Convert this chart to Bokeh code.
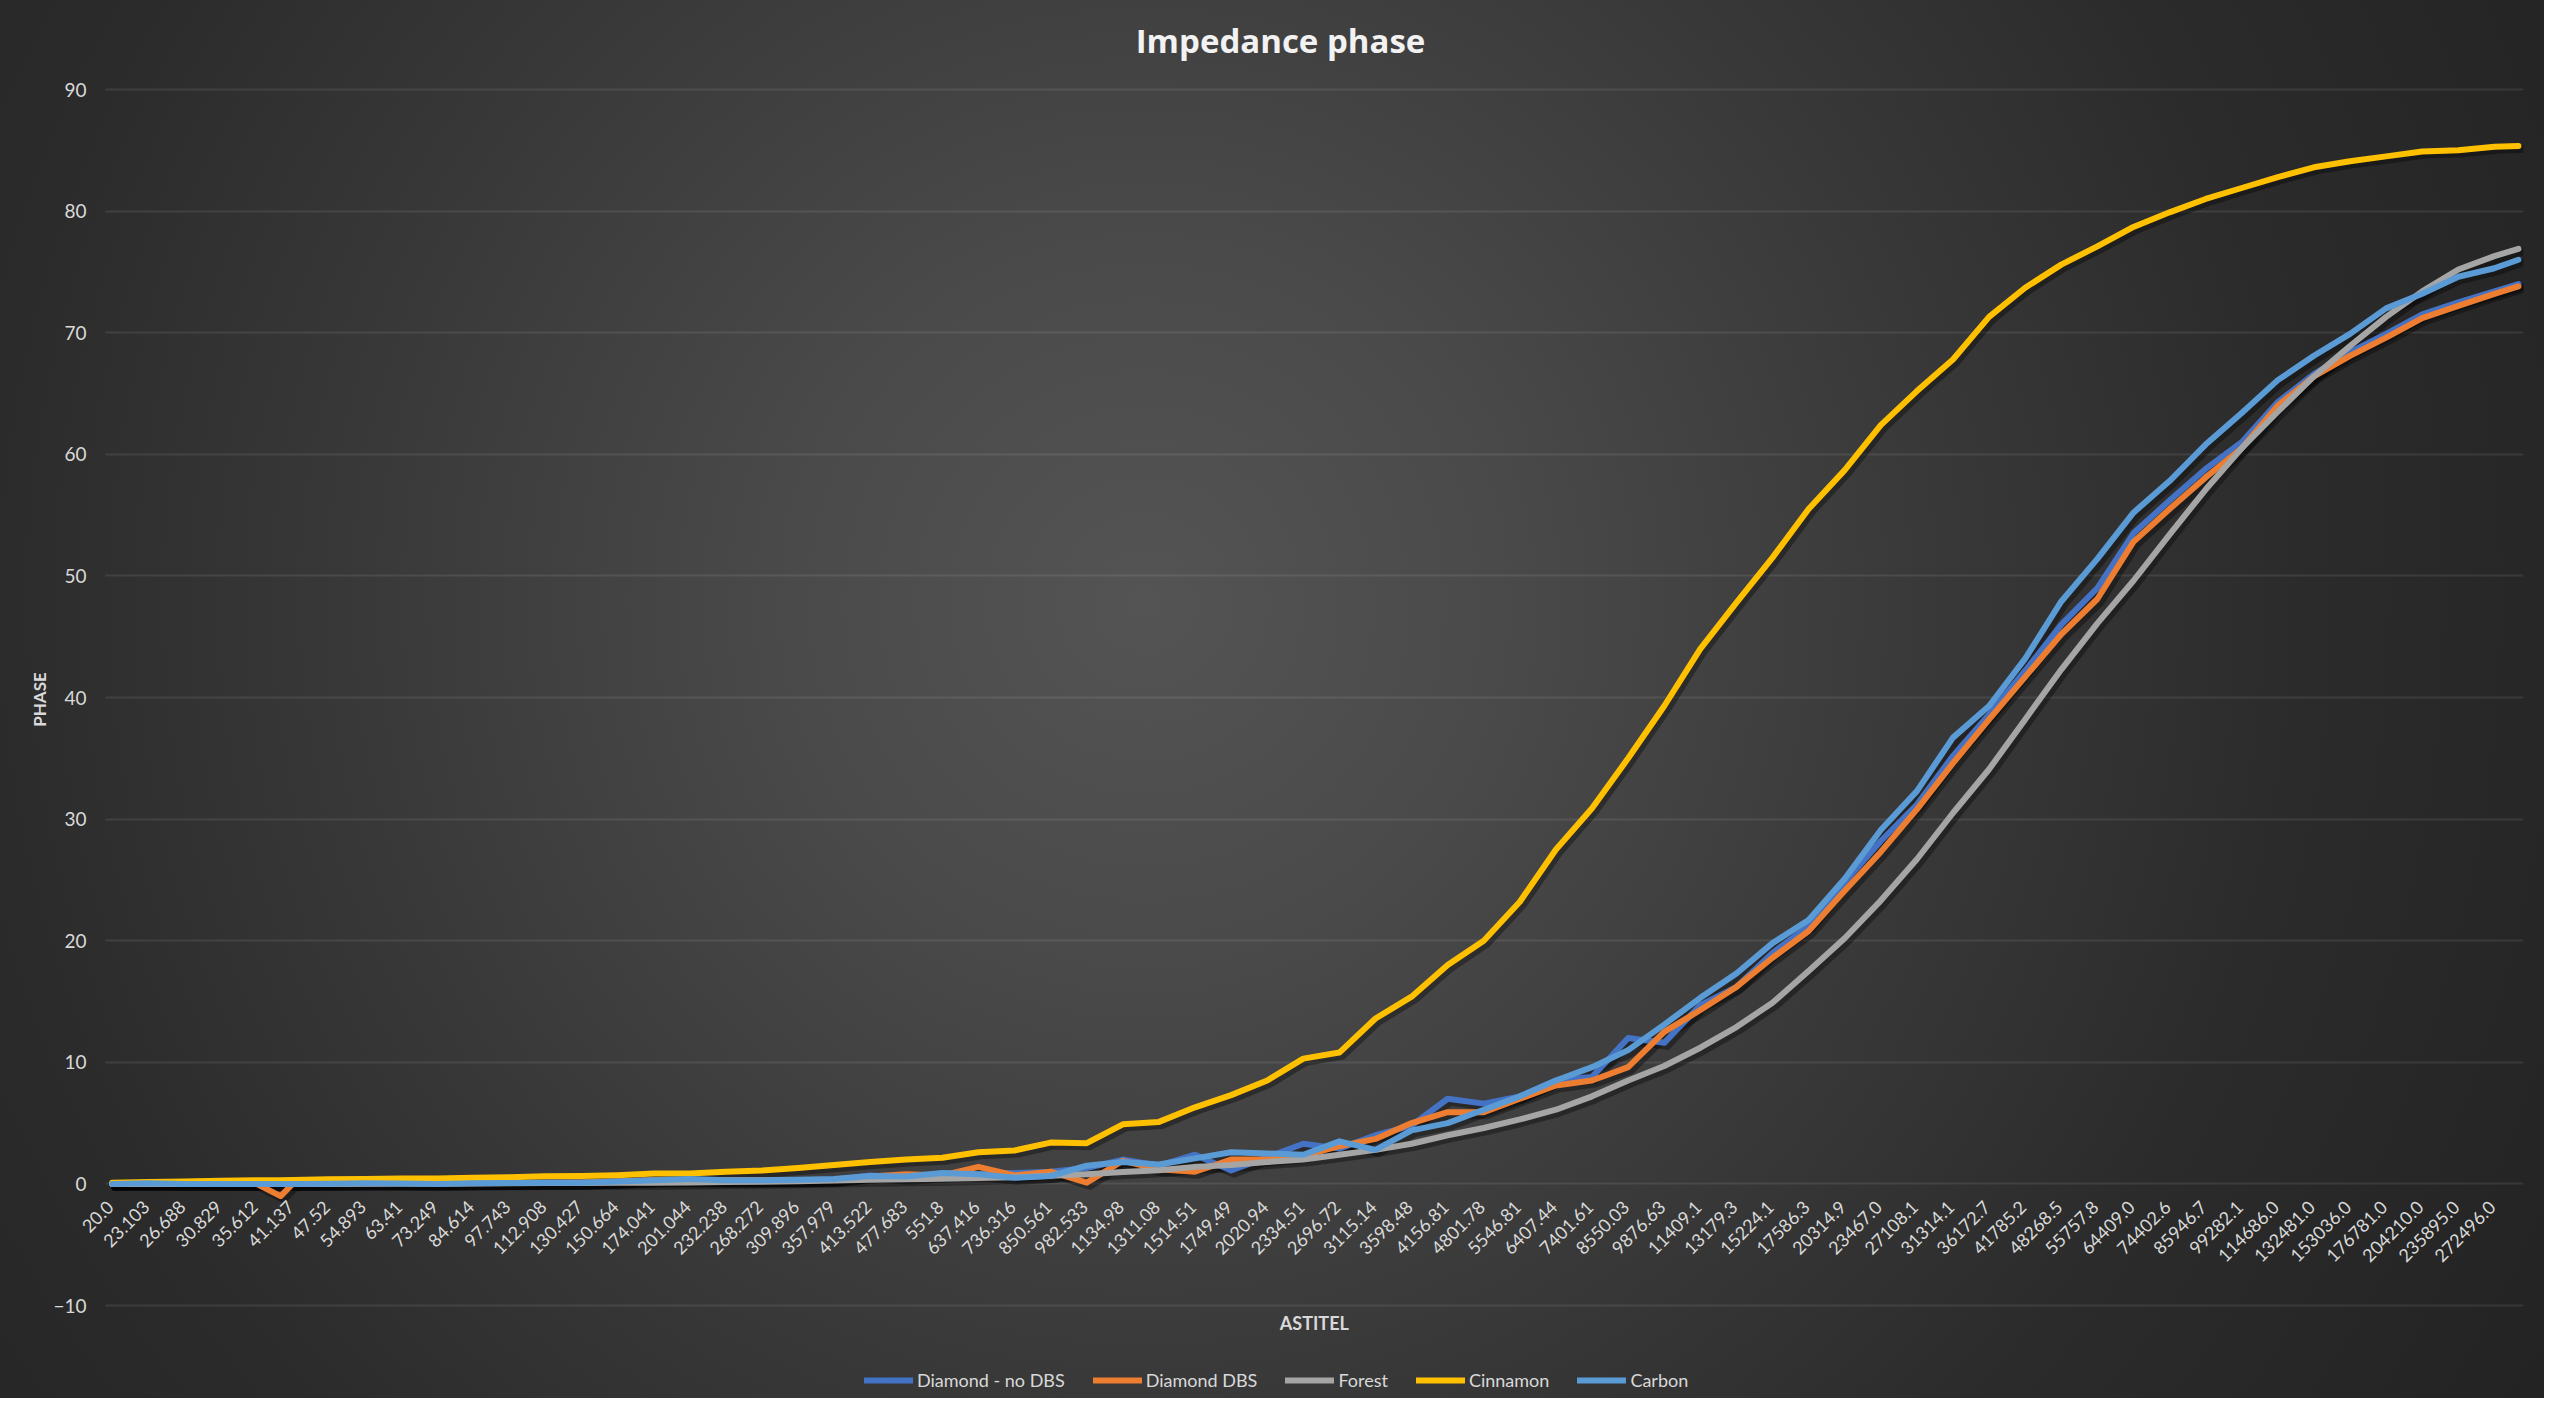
import math
from bokeh.plotting import figure
from bokeh.models import (Range1d, FixedTicker, Legend, LegendItem, ColumnDataSource,
                          LabelSet, Label)
from bokeh.transform import dodge
from bokeh.core.properties import value
from bokeh.embed import file_html
from bokeh.resources import INLINE

# ---------------- data ----------------
FREQ_LABELS = [
    "20.0", "23.103", "26.688", "30.829", "35.612", "41.137", "47.52", "54.893", "63.41", "73.249",
    "84.614", "97.743", "112.908", "130.427", "150.664", "174.041", "201.044", "232.238", "268.272", "309.896",
    "357.979", "413.522", "477.683", "551.8", "637.416", "736.316", "850.561", "982.533", "1134.98", "1311.08",
    "1514.51", "1749.49", "2020.94", "2334.51", "2696.72", "3115.14", "3598.48", "4156.81", "4801.78", "5546.81",
    "6407.44", "7401.61", "8550.03", "9876.63", "11409.1", "13179.3", "15224.1", "17586.3", "20314.9", "23467.0",
    "27108.1", "31314.1", "36172.7", "41785.2", "48268.5", "55757.8", "64409.0", "74402.6", "85946.7", "99282.1",
    "114686.0", "132481.0", "153036.0", "176781.0", "204210.0", "235895.0", "272496.0",
]
# category positions (frequency point number, 201 points, labelled every 3rd)
LABEL_INDEX = list(range(0, 3 * len(FREQ_LABELS), 3))
POINT_INDEX = sorted(set(LABEL_INDEX) | {14, 200})

DIAMOND_NO_DBS = [
    0.0, 0.0, 0.02, 0.0, 0.0,
    0.0,
    0.02, 0.03, 0.05, 0.05, 0.05, 0.06, 0.08, 0.1, 0.12, 0.2,
    0.3, 0.3, 0.3, 0.3, 0.3, 0.35, 0.7, 0.5, 0.7, 0.8,
    0.9, 1.0, 1.3, 2.0, 1.5, 2.4, 1.1, 2.2, 3.3, 2.9,
    4.0, 4.8, 7.0, 6.6, 7.2, 8.5, 8.8, 12.0, 11.6, 14.7,
    16.2, 19.0, 21.2, 24.8, 28.2, 31.2, 35.2, 38.6, 42.2, 46.0,
    49.0, 53.5, 56.2, 58.8, 61.0, 64.3, 66.6, 68.4, 69.9, 71.5,
    72.5, 73.4,
    74.0,
]
DIAMOND_DBS = [
    0.0, 0.05, 0.03, 0.0, 0.0,
    -1.0,
    0.0, 0.05, 0.05, 0.05, 0.05, 0.05, 0.08, 0.1, 0.12, 0.2,
    0.3, 0.3, 0.3, 0.3, 0.3, 0.35, 0.6, 0.8, 0.7, 1.4,
    0.7, 1.0, 0.1, 1.9, 1.2, 1.0, 2.0, 2.0, 2.3, 3.1,
    3.7, 5.0, 5.9, 5.9, 7.0, 8.1, 8.5, 9.6, 12.5, 14.3,
    16.2, 18.6, 20.8, 24.1, 27.3, 30.8, 34.6, 38.2, 41.7, 45.2,
    48.1, 52.8, 55.5, 58.1, 60.5, 64.0, 66.4, 68.1, 69.6, 71.2,
    72.2, 73.2,
    73.8,
]
FOREST = [
    0.0, 0.0, 0.0, 0.0, 0.0,
    0.0,
    0.0, 0.0, 0.02, 0.03, 0.04, 0.05, 0.06, 0.07, 0.08, 0.1,
    0.1, 0.12, 0.15, 0.18, 0.22, 0.28, 0.35, 0.38, 0.42, 0.48,
    0.55, 0.68, 0.8, 0.98, 1.12, 1.4, 1.55, 1.8, 2.0, 2.4,
    2.8, 3.3, 4.0, 4.6, 5.3, 6.1, 7.2, 8.5, 9.7, 11.2,
    12.9, 14.9, 17.5, 20.2, 23.3, 26.7, 30.5, 34.1, 38.2, 42.3,
    46.1, 49.6, 53.4, 57.1, 60.5, 63.5, 66.4, 68.9, 71.3, 73.4,
    75.2, 76.3,
    76.9,
]
CINNAMON = [
    0.1, 0.15, 0.2, 0.25, 0.3,
    0.3,
    0.32, 0.38, 0.4, 0.45, 0.45, 0.5, 0.55, 0.62, 0.65, 0.72,
    0.85, 0.85, 1.0, 1.1, 1.3, 1.55, 1.8, 2.0, 2.15, 2.6,
    2.75, 3.4, 3.35, 4.9, 5.1, 6.3, 7.3, 8.5, 10.3, 10.8,
    13.6, 15.4, 18.0, 20.0, 23.2, 27.5, 30.9, 35.0, 39.3, 44.0,
    47.8, 51.5, 55.5, 58.7, 62.4, 65.2, 67.8, 71.3, 73.7, 75.6,
    77.1, 78.7, 79.9, 81.0, 81.9, 82.8, 83.6, 84.1, 84.5, 84.9,
    85.0, 85.3,
    85.35,
]
CARBON = [
    0.0, 0.05, 0.0, 0.0, 0.0,
    0.0,
    0.0, 0.02, 0.05, 0.03, 0.0, 0.05, 0.08, 0.1, 0.1, 0.2,
    0.3, 0.4, 0.3, 0.3, 0.35, 0.4, 0.65, 0.6, 0.9, 0.8,
    0.5, 0.65, 1.5, 1.8, 1.6, 2.1, 2.6, 2.5, 2.4, 3.5,
    2.8, 4.4, 5.0, 6.1, 7.2, 8.5, 9.6, 11.0, 13.1, 15.3,
    17.3, 19.8, 21.7, 25.1, 29.1, 32.3, 36.7, 39.3, 43.2, 47.9,
    51.4, 55.2, 57.8, 60.8, 63.4, 66.1, 68.1, 69.9, 72.0, 73.2,
    74.6, 75.3,
    76.0,
]
SERIES_NAMES = ["Diamond - no DBS", "Diamond DBS", "Forest", "Cinnamon", "Carbon"]
SERIES_VALUES = [DIAMOND_NO_DBS, DIAMOND_DBS, FOREST, CINNAMON, CARBON]
SERIES_COLORS = ["#4472C4", "#ED7D31", "#A5A5A5", "#FFC000", "#5B9BD5"]
Y_TICKS = [-10, 0, 10, 20, 30, 40, 50, 60, 70, 80, 90]

TEXT_COLOR = "#d9d9d9"

# ---------------- geometry (pixels) ----------------
W, H = 2544, 1398
LEFT, RIGHT = 72, 21
PX_PER_UNIT = 12.16                 # vertical scale
GRID_START, X_END = -0.58, 200.42   # gridlines span the categories
X_START = -3.3                      # a bit of room so the first rotated label is not cut
Y_TOP_PX, Y_BOTTOM_PX = 89, 1305    # pixel rows of the 90 and -10 gridlines
Y_HIGH = 90 + Y_TOP_PX / PX_PER_UNIT
Y_LOW = -10 - (H - Y_BOTTOM_PX) / PX_PER_UNIT
X_PER_PX = (X_END - X_START) / (W - LEFT - RIGHT)

p = figure(
    width=W, height=H, title=None, x_axis_location=None,
    x_range=Range1d(X_START, X_END), y_range=Range1d(Y_LOW, Y_HIGH),
    output_backend="svg", toolbar_location=None,
    min_border_left=LEFT, min_border_right=RIGHT, min_border_top=0, min_border_bottom=0,
)
p.background_fill_color = None
p.border_fill_color = None
p.outline_line_color = None
p.styles = {"background": "radial-gradient(circle at 45% 43%, #545454 0%, #4a4a4a 22%, #383838 50%, #2b2b2b 72%, #232323 100%)"}

# y axis
yax = p.yaxis[0]
yax.ticker = FixedTicker(ticks=Y_TICKS)
yax.axis_line_color = None
yax.major_tick_line_color = None
yax.minor_tick_line_color = None
yax.major_tick_out = 0
yax.major_tick_in = 0
try:
    yax.major_label_standoff = -14
except Exception:
    yax.major_label_standoff = 0
yax.major_label_text_font = "Lato"
yax.major_label_text_font_size = "19px"
yax.major_label_text_color = TEXT_COLOR
yax.axis_label = "PHASE"
yax.axis_label_text_font = "Lato"
yax.axis_label_text_font_size = "17px"
yax.axis_label_text_font_style = "bold"
yax.axis_label_text_color = TEXT_COLOR
yax.axis_label_standoff = 0

p.xgrid.grid_line_color = None
ygrid = p.ygrid[0]
ygrid.grid_line_color = "#ffffff"
ygrid.grid_line_alpha = 0.09
ygrid.grid_line_width = 2
if "cross_bounds" in ygrid.properties():
    ygrid.cross_bounds = (GRID_START, X_END)

# chart title and horizontal axis title
p.add_layout(Label(x=X_START + (1280 - LEFT) * X_PER_PX, y=90 + (Y_TOP_PX - 40) / PX_PER_UNIT,
                   text="Impedance phase", text_align="center", text_baseline="middle",
                   text_font="Open Sans", text_font_size="33px", text_font_style="bold",
                   text_color="#f2f2f2"))
p.add_layout(Label(x=(GRID_START + X_END) / 2, y=-10 - (1322 - Y_BOTTOM_PX) / PX_PER_UNIT,
                   text="ASTITEL", text_align="center", text_baseline="middle",
                   text_font="Lato", text_font_size="18px", text_font_style="bold",
                   text_color=TEXT_COLOR))

# category labels along the zero line
lab_src = ColumnDataSource(dict(x=LABEL_INDEX, y=[0] * len(LABEL_INDEX), text=FREQ_LABELS))
labels = LabelSet(x="x", y="y", text="text", source=lab_src, angle=math.pi / 4,
                  text_align="right", text_baseline="middle", x_offset=-2, y_offset=-20,
                  text_font=value("Lato"), text_font_size=value("18px"), text_color=TEXT_COLOR)
p.add_layout(labels)

# series
sources = []
for vals in SERIES_VALUES:
    sources.append(ColumnDataSource(dict(x=POINT_INDEX, y=vals)))

for src in sources:
    p.line(x=dodge("x", 0.25), y=dodge("y", -0.25), source=src, line_color="#000000",
           line_alpha=0.35, line_width=8, line_join="round", line_cap="round")

items = []
for name, src, col in zip(SERIES_NAMES, sources, SERIES_COLORS):
    r = p.line(x="x", y="y", source=src, line_color=col, line_width=6,
               line_join="round", line_cap="round")
    items.append(LegendItem(label=name, renderers=[r]))

# legend box: left edge 864 px from the canvas left, bottom edge 7 px above the canvas bottom
legend = Legend(items=items, orientation="horizontal", location=(864 - LEFT, 7))
legend.glyph_width = 49
legend.glyph_height = 20
legend.label_height = 20
legend.label_standoff = 4
legend.spacing = 28
legend.padding = 5
legend.margin = 0
legend.label_text_font = "Lato"
legend.label_text_font_size = "18px"
legend.label_text_color = TEXT_COLOR
legend.background_fill_alpha = 0
legend.border_line_color = None
p.add_layout(legend)

open("out.html", "w").write(file_html(p, INLINE))
